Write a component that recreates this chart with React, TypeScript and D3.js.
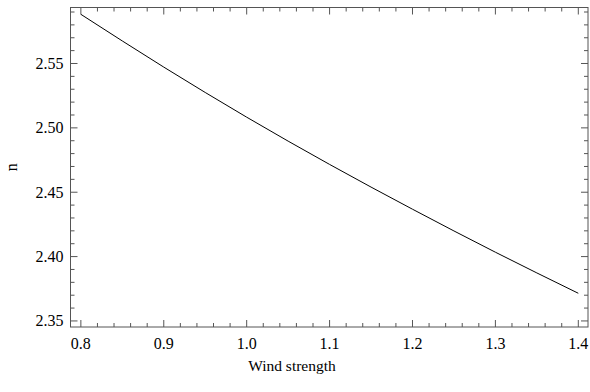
import React from "react";
import * as d3 from "d3";

const windStrength = [0.8, 0.9, 1.0, 1.1, 1.2, 1.3, 1.4];
const nValues = [2.5882, 2.5472, 2.5083, 2.4716, 2.4368, 2.4034, 2.3715];
const xTickLabels = ["0.8", "0.9", "1.0", "1.1", "1.2", "1.3", "1.4"];
const yTickLabels = ["2.35", "2.40", "2.45", "2.50", "2.55"];

const W = 590;
const H = 392;
const L = 70.5, R = 588, T = 7.5, B = 327;
const FONT = "Liberation Serif, DejaVu Serif, serif";
const FRAME = "#555";

const textStyle: React.CSSProperties = { fontFamily: FONT, fontSize: "16px" };

export default function App() {
  const x = d3.scaleLinear().domain([0.7875, 1.4117]).range([L, R]);
  const y = d3.scaleLinear().domain([2.3453, 2.5935]).range([B, T]);

  const line = d3
    .line<number>()
    .x((_, i) => x(windStrength[i]))
    .y((d) => y(d))
    .curve(d3.curveMonotoneX);

  const xMajor = xTickLabels.map(Number);
  const xMinor = d3.range(0, 33).map((i) => 0.78 + i * 0.02).filter(
    (v) => x(v) > L + 0.5 && x(v) < R - 0.5 && !xMajor.some((m) => Math.abs(m - v) < 1e-6)
  );
  const yMajor = yTickLabels.map(Number);
  const yMinor = d3.range(0, 30).map((i) => 2.34 + i * 0.01).filter(
    (v) => y(v) < B - 0.5 && y(v) > T + 0.5 && !yMajor.some((m) => Math.abs(m - v) < 1e-6)
  );

  const majorLen = 7;
  const minorLen = 4;

  return (
    <svg
      width={W}
      height={H}
      style={{ position: "absolute", left: 0, top: 0, background: "#fff" }}
    >
      <rect x={0} y={0} width={W} height={H} fill="#fff" />
      {xMajor.map((v) => (
        <g key={"xM" + v} stroke={FRAME} strokeWidth={1}>
          <line x1={x(v)} x2={x(v)} y1={B} y2={B - majorLen} />
          <line x1={x(v)} x2={x(v)} y1={T} y2={T + majorLen} />
        </g>
      ))}
      {xMinor.map((v) => (
        <g key={"xm" + v} stroke={FRAME} strokeWidth={1}>
          <line x1={x(v)} x2={x(v)} y1={B} y2={B - minorLen} />
          <line x1={x(v)} x2={x(v)} y1={T} y2={T + minorLen} />
        </g>
      ))}
      {yMajor.map((v) => (
        <g key={"yM" + v} stroke={FRAME} strokeWidth={1}>
          <line x1={L} x2={L + majorLen} y1={y(v)} y2={y(v)} />
          <line x1={R} x2={R - majorLen} y1={y(v)} y2={y(v)} />
        </g>
      ))}
      {yMinor.map((v) => (
        <g key={"ym" + v} stroke={FRAME} strokeWidth={1}>
          <line x1={L} x2={L + minorLen} y1={y(v)} y2={y(v)} />
          <line x1={R} x2={R - minorLen} y1={y(v)} y2={y(v)} />
        </g>
      ))}
      <rect x={L} y={T} width={R - L} height={B - T} fill="none" stroke={FRAME} strokeWidth={1} />
      <path d={line(nValues) || ""} fill="none" stroke="#000" strokeWidth={1} />
      {xTickLabels.map((t) => (
        <text key={"xl" + t} x={x(Number(t))} y={349} textAnchor="middle" style={textStyle} fill="#000">
          {t}
        </text>
      ))}
      {yTickLabels.map((t) => (
        <text
          key={"yl" + t}
          x={L - 7}
          y={y(Number(t)) + 5.5}
          textAnchor="end"
          style={textStyle}
          fill="#000"
        >
          {t}
        </text>
      ))}
      <text x={292} y={371} textAnchor="middle" style={{ ...textStyle, fontSize: "15.5px" }} fill="#000">
        Wind strength
      </text>
      <text
        transform={`translate(17,${(T + B) / 2}) rotate(-90)`}
        textAnchor="middle"
        style={textStyle}
        fill="#000"
      >
        n
      </text>
    </svg>
  );
}
